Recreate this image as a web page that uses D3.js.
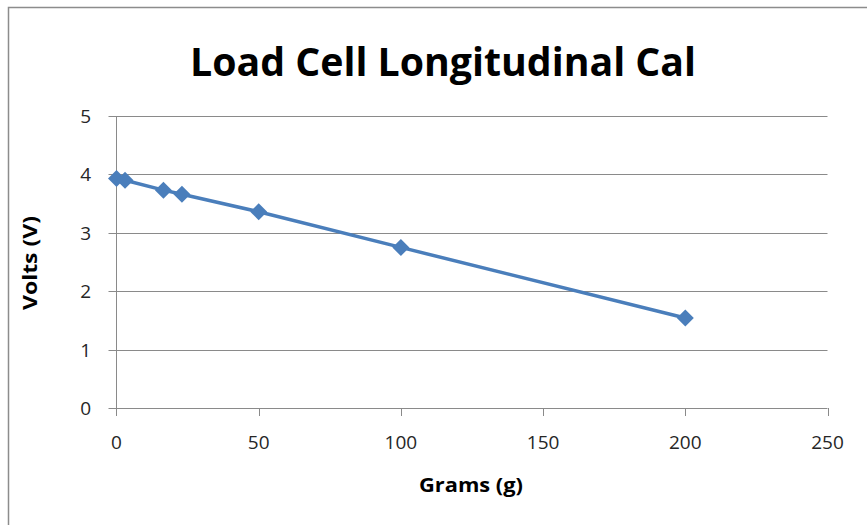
<!DOCTYPE html>
<html>
<head>
<meta charset="utf-8">
<script src="https://cdn.jsdelivr.net/npm/d3@7"></script>
<style>
  body { margin: 0; background: #fff; }
  svg { display: block; }
  text { font-family: "Open Sans", "DejaVu Sans", sans-serif; }
</style>
</head>
<body>
<div id="chart"></div>
<script>
var grams = [0, 3, 16.5, 23, 50, 100, 200];
var volts = [3.93, 3.90, 3.73, 3.66, 3.36, 2.75, 1.54];
var xTicks = [0, 50, 100, 150, 200, 250];
var yTicks = [0, 1, 2, 3, 4, 5];

var width = 867, height = 525;

var svg = d3.select("#chart").append("svg")
  .attr("width", width)
  .attr("height", height);

// outer chart border
svg.append("path")
  .attr("d", "M8.5," + height + "V7.5H" + width)
  .attr("fill", "none")
  .attr("stroke", "#8c8c8c")
  .attr("stroke-width", 1.5);

var x = d3.scaleLinear().domain([0, 250]).range([116.5, 827.5]);
var y = d3.scaleLinear().domain([0, 5]).range([408, 116]);

// gridlines
svg.append("g")
  .selectAll("line")
  .data(yTicks)
  .enter().append("line")
  .attr("x1", x(0) - 8)
  .attr("x2", x(250))
  .attr("y1", function(d) { return Math.round(y(d)) + 0.5; })
  .attr("y2", function(d) { return Math.round(y(d)) + 0.5; })
  .attr("stroke", "#8a8a8a")
  .attr("stroke-width", 1);

// y axis line
svg.append("line")
  .attr("x1", x(0)).attr("x2", x(0))
  .attr("y1", y(5)).attr("y2", y(0) + 8)
  .attr("stroke", "#8a8a8a");

// x ticks
svg.append("g")
  .selectAll("line")
  .data(xTicks.slice(1))
  .enter().append("line")
  .attr("x1", function(d) { return Math.round(x(d)) + 0.5; })
  .attr("x2", function(d) { return Math.round(x(d)) + 0.5; })
  .attr("y1", y(0))
  .attr("y2", y(0) + 8)
  .attr("stroke", "#8a8a8a");

// tick labels
svg.append("g")
  .selectAll("text")
  .data(xTicks)
  .enter().append("text")
  .attr("x", function(d) { return x(d); })
  .attr("y", y(0) + 41)
  .attr("text-anchor", "middle")
  .attr("font-size", 19)
  .attr("fill", "#262626")
  .text(function(d) { return d; });

svg.append("g")
  .selectAll("text")
  .data(yTicks)
  .enter().append("text")
  .attr("x", 91)
  .attr("y", function(d) { return y(d) + 7; })
  .attr("text-anchor", "end")
  .attr("font-size", 19)
  .attr("fill", "#262626")
  .text(function(d) { return d; });

// title and axis titles
svg.append("text")
  .attr("x", 443)
  .attr("y", 76)
  .attr("text-anchor", "middle")
  .attr("font-size", 40)
  .attr("font-weight", "bold")
  .attr("textLength", 506)
  .attr("lengthAdjust", "spacingAndGlyphs")
  .text("Load Cell Longitudinal Cal");

svg.append("text")
  .attr("x", 471)
  .attr("y", 492)
  .attr("text-anchor", "middle")
  .attr("font-size", 19)
  .attr("font-weight", "bold")
  .attr("textLength", 104)
  .attr("lengthAdjust", "spacingAndGlyphs")
  .text("Grams (g)");

svg.append("text")
  .attr("transform", "translate(37,263) rotate(-90)")
  .attr("text-anchor", "middle")
  .attr("font-size", 19)
  .attr("font-weight", "bold")
  .attr("textLength", 94)
  .attr("lengthAdjust", "spacingAndGlyphs")
  .text("Volts (V)");

// series
var data = grams.map(function(g, i) { return {g: g, v: volts[i]}; });

var line = d3.line()
  .x(function(d) { return x(d.g); })
  .y(function(d) { return y(d.v); });

svg.append("path")
  .datum(data)
  .attr("d", line)
  .attr("fill", "none")
  .attr("stroke", "#4a7ebb")
  .attr("stroke-width", 3.5);

svg.append("g")
  .selectAll("path")
  .data(data)
  .enter().append("path")
  .attr("transform", function(d) { return "translate(" + x(d.g) + "," + y(d.v) + ")"; })
  .attr("d", "M0,-8.5L8.5,0L0,8.5L-8.5,0Z")
  .attr("fill", "#4a7ebb");
</script>
</body>
</html>
